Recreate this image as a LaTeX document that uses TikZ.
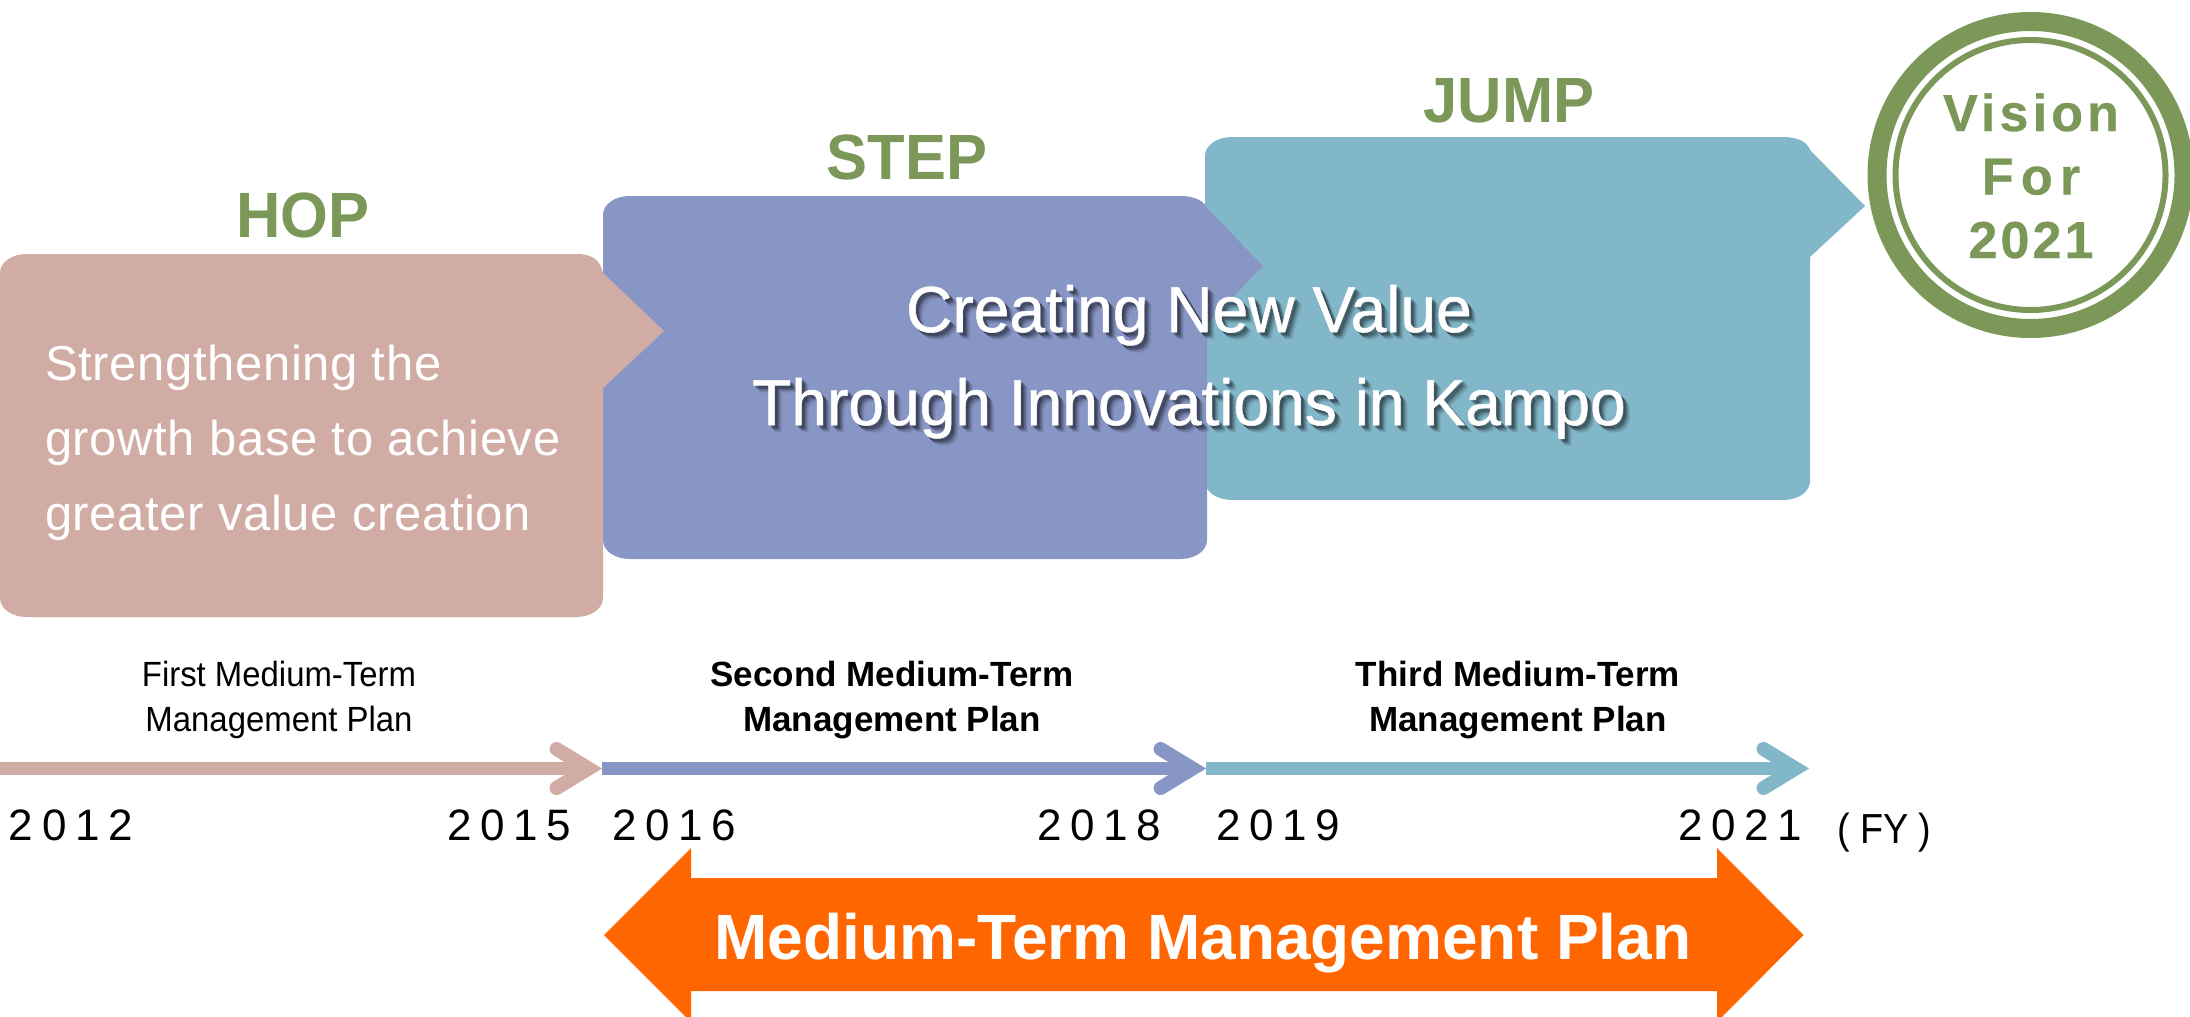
\documentclass[tikz,border=0pt]{standalone}
\usepackage{fontspec}
\usetikzlibrary{arrows.meta}
\setmainfont{Liberation Sans}
\newfontfamily\fStage[FakeStretch=0.96]{Liberation Sans}
\newfontfamily\fBody[LetterSpace=1.3]{Liberation Sans}
\newfontfamily\fFirst[FakeStretch=0.94]{Liberation Sans}
\newfontfamily\fCenter[FakeStretch=0.987,FakeBold=0.8]{Liberation Sans}
\newfontfamily\fYear[LetterSpace=20]{Liberation Sans}
\newfontfamily\fVision[LetterSpace=8,FakeBold=0.6]{Liberation Sans}
\newfontfamily\fVisionB[LetterSpace=14,FakeBold=0.6]{Liberation Sans}
\newfontfamily\fVisionC[LetterSpace=6,FakeBold=0.6]{Liberation Sans}
\newfontfamily\fFY[FakeStretch=0.9]{Liberation Sans}
\definecolor{hopc}{HTML}{D1ACA4}
\definecolor{stepc}{HTML}{8896C6}
\definecolor{jumpc}{HTML}{82B7CA}
\definecolor{greenc}{HTML}{7B9859}
\definecolor{orangec}{HTML}{FF6600}
\newcommand{\sz}[2]{\fontsize{#1}{#2}\selectfont}
% left, top, right, bottom, head top, head bottom, tip x, tip y
\newcommand{\tagshape}[9]{%
  \fill[#1] ({#2+27},#3) -- ({#4-27},#3)
    .. controls ({#4-12},#3) and ({#4-3},{#3+5}) .. (#4,#6)
    -- (#8,#9) -- (#4,#7) -- (#4,{#5-19})
    .. controls (#4,{#5-8}) and ({#4-12},#5) .. ({#4-27},#5)
    -- ({#2+27},#5)
    .. controls ({#2+12},#5) and (#2,{#5-8}) .. (#2,{#5-19})
    -- (#2,{#3+19})
    .. controls (#2,{#3+8}) and ({#2+12},#3) .. ({#2+27},#3) -- cycle;}
\tikzset{
  txt/.style={inner sep=0pt,outer sep=0pt},
  stage/.style={txt,anchor=base,text=greenc,font=\fStage\bfseries\sz{64}{64}},
  planlabel/.style={txt,anchor=base,align=center,text=black,font=\sz{35}{45}},
  yearlabel/.style={txt,anchor=base west,text=black,font=\fYear\sz{44}{44}},
  planline/.style={line width=12.5pt,-{Straight Barb[length=32pt,width=39pt,line width=14pt,line cap=round,line join=miter]}},
  centertext/.style={txt,anchor=base,align=center,font=\fCenter\sz{65}{93}},
}
\begin{document}
\begin{tikzpicture}[x=1pt,y=-1pt]
\useasboundingbox (0,0) rectangle (2190,1017);
\clip (0,0) rectangle (2190,1017);
\fill[white] (0,0) rectangle (2190,1017);
% stage tags
\tagshape{jumpc}{1205}{137}{1810}{500}{150}{257}{1865}{206}
\tagshape{stepc}{603}{196}{1207}{559}{208}{324}{1263}{266}
\tagshape{hopc}{0}{254}{603}{617}{273}{388}{664}{331}
% stage titles
\node[stage] (hop) at (303,237) {HOP};
\node[stage] (step) at (907,179) {STEP};
\node[stage] (jump) at (1509,122) {JUMP};
% body text
\node[txt,anchor=base west,align=left,text=white,font=\fBody\sz{49}{75}] (body) at (45,530)
  {Strengthening the\\growth base to achieve\\greater value creation};
% center text with soft shadow
\foreach \d/\o in {7/.05,6/.07,5/.1,4/.14,3/.18,2/.12}{
  \node[centertext,text=black,opacity=\o] at (1189,{425+\d}) [xshift=\d pt] {Creating New Value\\Through Innovations in Kampo};
}
\node[centertext,text=white] (center) at (1189,425) {Creating New Value\\Through Innovations in Kampo};
% vision circle
\coordinate (vc) at (2030.5,175);
\draw[greenc,line width=19pt] (vc) circle[radius=153.5pt];
\draw[greenc,line width=6pt] (vc) circle[radius=135pt];
\node[txt,anchor=base,align=center,text=greenc,font=\bfseries\sz{52}{63.5}] (vision) at (2031,258)
  {{\fVision\bfseries Vision}\\{\fVisionB\bfseries For}\\{\fVisionC\bfseries 2021}};
% plan labels
\node[planlabel,font=\fFirst\sz{35}{45}] (p1) at (279,731) {First Medium-Term\\Management Plan};
\node[planlabel,font=\bfseries\sz{35}{45}] (p2) at (892,731) {Second Medium-Term\\Management Plan};
\node[planlabel,font=\bfseries\sz{35}{45}] (p3) at (1518,731) {Third Medium-Term\\Management Plan};
% timeline
\coordinate (t0) at (0,768.5);
\coordinate (t1) at (602,768.5);
\coordinate (t2) at (1206,768.5);
\coordinate (t3) at (1809,768.5);
\draw[planline,draw=hopc] (t0) -- (t1);
\draw[planline,draw=stepc] (t1) -- (t2);
\draw[planline,draw=jumpc] (t2) -- (t3);
% years
\node[yearlabel] (y12) at (9,840) {2012};
\node[yearlabel] (y15) at (447,840) {2015};
\node[yearlabel] (y16) at (612,840) {2016};
\node[yearlabel] (y18) at (1037,840) {2018};
\node[yearlabel] (y19) at (1216,840) {2019};
\node[yearlabel] (y21) at (1678,840) {2021};
\node[txt,anchor=base west,text=black,font=\fFY\sz{42}{42}] (fy) at (1837,843) {( FY )};
% orange double arrow
\fill[orangec] (604,935) -- (691,848) -- (691,878) -- (1717,878) -- (1717,848) -- (1803.5,935)
  -- (1717,1022) -- (1717,991) -- (691,991) -- (691,1022) -- cycle;
\node[txt,anchor=base,text=white,font=\bfseries\sz{64}{64}] (mt) at (1203,959) {Medium-Term Management Plan};
\end{tikzpicture}
\end{document}
